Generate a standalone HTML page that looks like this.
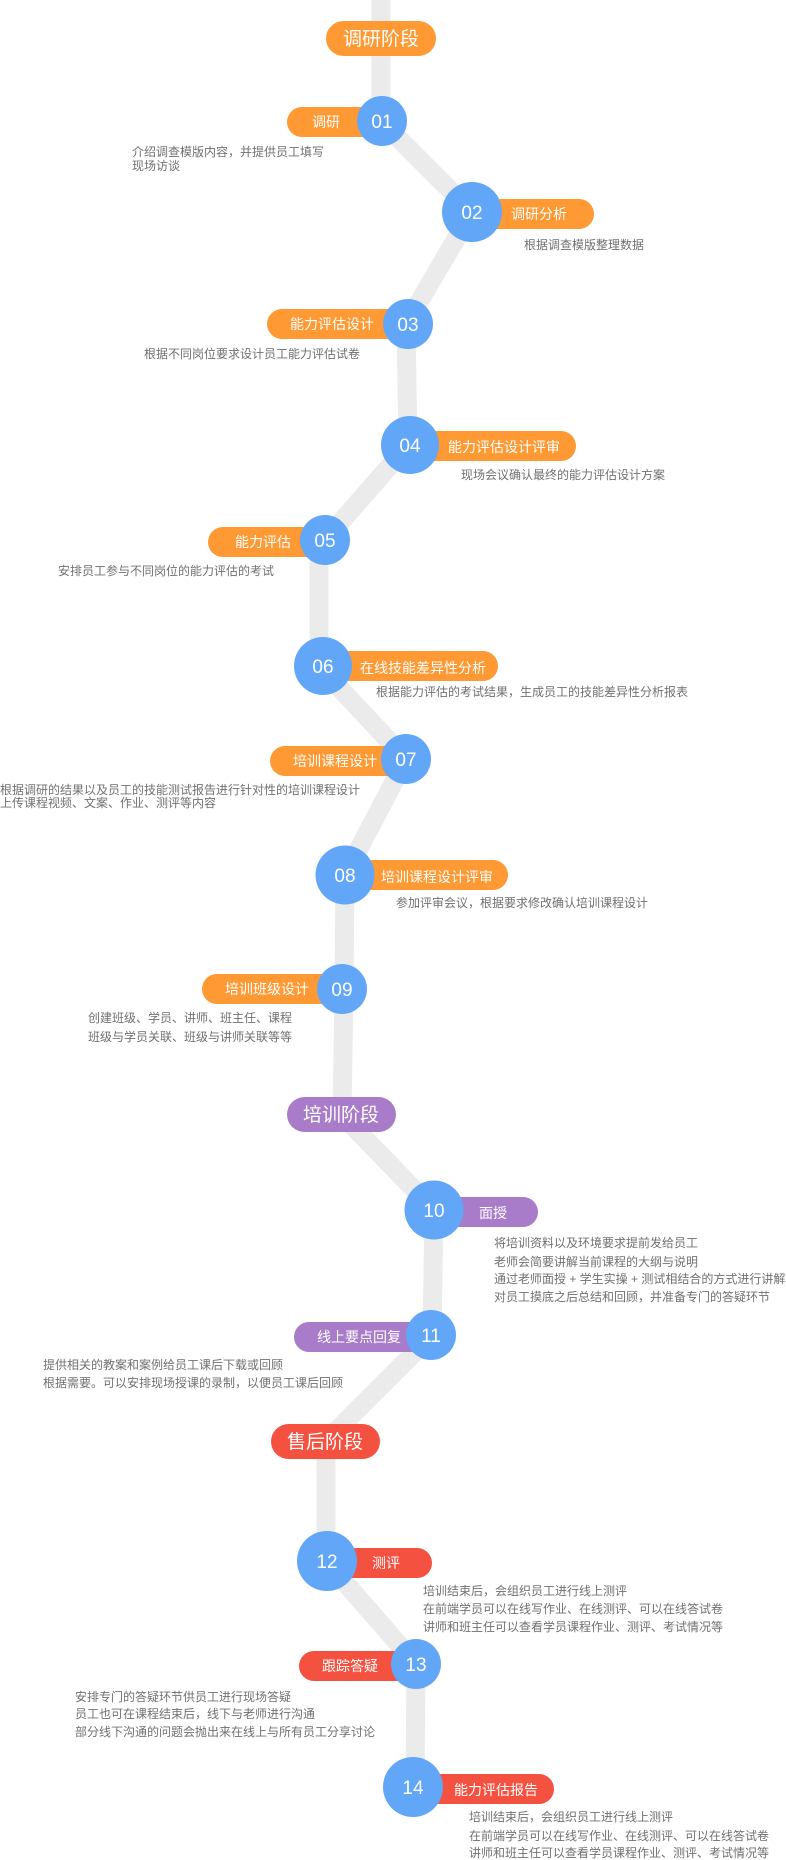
<!DOCTYPE html>
<html><head><meta charset="utf-8"><style>
html,body{margin:0;padding:0;background:#fff;}
svg{display:block;}
text{font-family:"Liberation Sans","Noto Sans CJK SC",sans-serif;}
.d{font-size:12px;fill:#707070;}
.p{font-size:14px;fill:#fff;}
.n{font-size:19px;fill:#fff;text-anchor:middle;}
.s{font-size:19px;fill:#fff;text-anchor:middle;}
</style></head><body>
<svg width="786" height="1860" viewBox="0 0 786 1860" xmlns="http://www.w3.org/2000/svg">
<polyline fill="none" stroke="#ebebeb" stroke-width="19" stroke-linejoin="miter" points="381,0 381,121 472,212 406,324 408,445 325,540 319,548 319,666 406,759 345,875 344,989 342,1115 434,1210 432,1335 326,1441 326,1561 416,1664 415,1787"/>

<!-- stage 1 -->
<rect x="326" y="21" width="110" height="35" rx="17.5" fill="#ff9933"/>
<text class="s" x="381" y="45">调研阶段</text>

<!-- 01 -->
<rect x="287" y="107" width="95" height="30" rx="15" fill="#ff9933"/>
<text class="p" x="312" y="127">调研</text>
<circle cx="382" cy="121" r="25" fill="#62a6f8"/>
<text class="n" x="382" y="128">01</text>
<text class="d" x="132" y="156">介绍调查模版内容，并提供员工填写</text>
<text class="d" x="132" y="170">现场访谈</text>

<!-- 02 -->
<rect x="472" y="199" width="122" height="30" rx="15" fill="#ff9933"/>
<circle cx="472" cy="212" r="30" fill="#62a6f8"/>
<text class="n" x="472" y="219">02</text>
<text class="p" x="511" y="219">调研分析</text>
<text class="d" x="524" y="249">根据调查模版整理数据</text>

<!-- 03 -->
<rect x="267" y="309" width="141" height="30" rx="15" fill="#ff9933"/>
<text class="p" x="290" y="329">能力评估设计</text>
<circle cx="408" cy="324" r="25" fill="#62a6f8"/>
<text class="n" x="408" y="331">03</text>
<text class="d" x="144" y="358">根据不同岗位要求设计员工能力评估试卷</text>

<!-- 04 -->
<rect x="410" y="431" width="166" height="30" rx="15" fill="#ff9933"/>
<circle cx="410" cy="445" r="29" fill="#62a6f8"/>
<text class="n" x="410" y="452">04</text>
<text class="p" x="448" y="452">能力评估设计评审</text>
<text class="d" x="461" y="479">现场会议确认最终的能力评估设计方案</text>

<!-- 05 -->
<rect x="208" y="527" width="117" height="30" rx="15" fill="#ff9933"/>
<text class="p" x="235" y="547">能力评估</text>
<circle cx="325" cy="540" r="25" fill="#62a6f8"/>
<text class="n" x="325" y="547">05</text>
<text class="d" x="58" y="575">安排员工参与不同岗位的能力评估的考试</text>

<!-- 06 -->
<rect x="323" y="651" width="175" height="30" rx="15" fill="#ff9933"/>
<circle cx="323" cy="666" r="29" fill="#62a6f8"/>
<text class="n" x="323" y="673">06</text>
<text class="p" x="360" y="673">在线技能差异性分析</text>
<text class="d" x="376" y="696">根据能力评估的考试结果，生成员工的技能差异性分析报表</text>

<!-- 07 -->
<rect x="270" y="746" width="136" height="30" rx="15" fill="#ff9933"/>
<text class="p" x="293" y="766">培训课程设计</text>
<circle cx="406" cy="759" r="25" fill="#62a6f8"/>
<text class="n" x="406" y="766">07</text>
<text class="d" x="0" y="794">根据调研的结果以及员工的技能测试报告进行针对性的培训课程设计</text>
<text class="d" x="0" y="807">上传课程视频、文案、作业、测评等内容</text>

<!-- 08 -->
<rect x="345" y="860" width="163" height="30" rx="15" fill="#ff9933"/>
<circle cx="345" cy="875" r="29.5" fill="#62a6f8"/>
<text class="n" x="345" y="882">08</text>
<text class="p" x="381" y="882">培训课程设计评审</text>
<text class="d" x="396" y="907">参加评审会议，根据要求修改确认培训课程设计</text>

<!-- 09 -->
<rect x="202" y="974" width="140" height="30" rx="15" fill="#ff9933"/>
<text class="p" x="225" y="994">培训班级设计</text>
<circle cx="342" cy="989" r="25" fill="#62a6f8"/>
<text class="n" x="342" y="996">09</text>
<text class="d" x="88" y="1022">创建班级、学员、讲师、班主任、课程</text>
<text class="d" x="88" y="1041">班级与学员关联、班级与讲师关联等等</text>

<!-- stage 2 -->
<rect x="287" y="1097" width="109" height="35" rx="17.5" fill="#a87cc8"/>
<text class="s" x="341" y="1121">培训阶段</text>

<!-- 10 -->
<rect x="434" y="1197" width="104" height="30" rx="15" fill="#a87cc8"/>
<circle cx="434" cy="1210" r="29.5" fill="#62a6f8"/>
<text class="n" x="434" y="1217">10</text>
<text class="p" x="479" y="1218">面授</text>
<text class="d" x="494" y="1247">将培训资料以及环境要求提前发给员工</text>
<text class="d" x="494" y="1266">老师会简要讲解当前课程的大纲与说明</text>
<text class="d" x="494" y="1283">通过老师面授 + 学生实操 + 测试相结合的方式进行讲解</text>
<text class="d" x="494" y="1301">对员工摸底之后总结和回顾，并准备专门的答疑环节</text>

<!-- 11 -->
<rect x="294" y="1322" width="137" height="30" rx="15" fill="#a87cc8"/>
<text class="p" x="317" y="1342">线上要点回复</text>
<circle cx="431" cy="1335" r="25" fill="#62a6f8"/>
<text class="n" x="431" y="1342">11</text>
<text class="d" x="43" y="1369">提供相关的教案和案例给员工课后下载或回顾</text>
<text class="d" x="43" y="1387">根据需要。可以安排现场授课的录制，以便员工课后回顾</text>

<!-- stage 3 -->
<rect x="271" y="1424" width="109" height="35" rx="17.5" fill="#f55140"/>
<text class="s" x="325" y="1448">售后阶段</text>

<!-- 12 -->
<rect x="327" y="1548" width="105" height="30" rx="15" fill="#f55140"/>
<circle cx="327" cy="1561" r="30" fill="#62a6f8"/>
<text class="n" x="327" y="1568">12</text>
<text class="p" x="372" y="1568">测评</text>
<text class="d" x="423" y="1595">培训结束后，会组织员工进行线上测评</text>
<text class="d" x="423" y="1613">在前端学员可以在线写作业、在线测评、可以在线答试卷</text>
<text class="d" x="423" y="1631">讲师和班主任可以查看学员课程作业、测评、考试情况等</text>

<!-- 13 -->
<rect x="299" y="1651" width="117" height="30" rx="15" fill="#f55140"/>
<text class="p" x="322" y="1671">跟踪答疑</text>
<circle cx="416" cy="1664" r="25" fill="#62a6f8"/>
<text class="n" x="416" y="1671">13</text>
<text class="d" x="75" y="1701">安排专门的答疑环节供员工进行现场答疑</text>
<text class="d" x="75" y="1718">员工也可在课程结束后，线下与老师进行沟通</text>
<text class="d" x="75" y="1736">部分线下沟通的问题会抛出来在线上与所有员工分享讨论</text>

<!-- 14 -->
<rect x="413" y="1774" width="141" height="30" rx="15" fill="#f55140"/>
<circle cx="413" cy="1787" r="30" fill="#62a6f8"/>
<text class="n" x="413" y="1794">14</text>
<text class="p" x="454" y="1795">能力评估报告</text>
<text class="d" x="469" y="1821">培训结束后，会组织员工进行线上测评</text>
<text class="d" x="469" y="1840">在前端学员可以在线写作业、在线测评、可以在线答试卷</text>
<text class="d" x="469" y="1857">讲师和班主任可以查看学员课程作业、测评、考试情况等</text>
</svg>
</body></html>
